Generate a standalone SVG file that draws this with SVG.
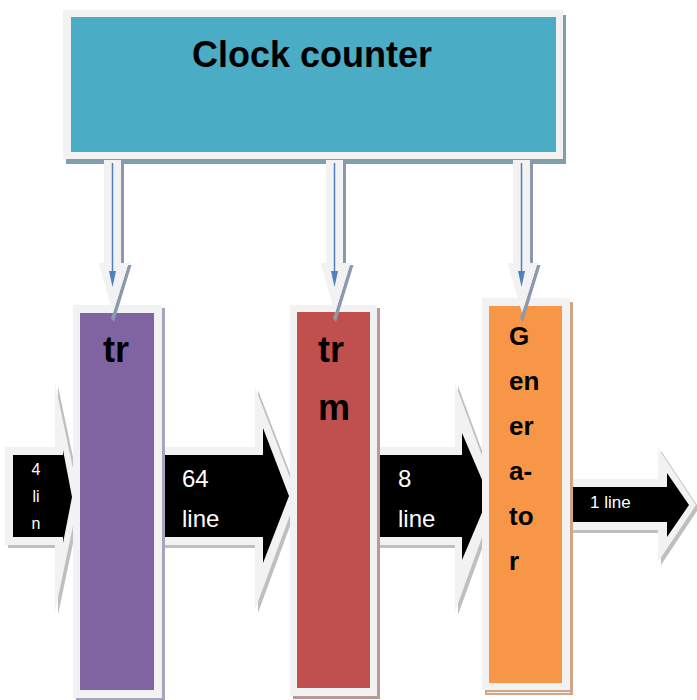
<svg xmlns="http://www.w3.org/2000/svg" width="697" height="700" viewBox="0 0 697 700">
<style>
.rim{fill:#f2f2f2}
.ashadow{fill:#bfbfbf}
.ablack{fill:#000000}
.dshadow{fill:#8c99ad}
.blue{stroke:#4f81bd;stroke-width:1.5;fill:none}
.bluehead{fill:#4f81bd}
.wt{fill:#ffffff;font-family:"Liberation Sans",Arial,sans-serif}
.bt{fill:#000000;font-family:"Liberation Sans",Arial,sans-serif;font-weight:bold}
</style>
<rect width="697" height="700" fill="#ffffff"/>

<g id="clock-counter">
  <rect x="66" y="15" width="500" height="149" fill="#7f9faa"/>
  <rect class="rim" x="63" y="10" width="500" height="149"/>
  <rect x="71" y="17" width="485" height="135" fill="#4bacc6"/>
  <text class="bt" x="312" y="67" font-size="36" text-anchor="middle">Clock counter</text>
</g>

<g id="connectors">
  <g id="arrow-4lin">
    <polygon class="ashadow" points="8,450 58,450 58,386 82,500 58,615 58,548 8,548"/>
    <polygon class="rim" points="5,447 55,447 55,383 79,497 55,612 55,545 5,545"/>
    <polygon class="ablack" points="13,455 63,455 63,450 72,497 63,543 63,537 13,537"/>
    <text class="wt" font-size="16" text-anchor="middle"><tspan x="36" y="475">4</tspan><tspan x="36" y="502">li</tspan><tspan x="36" y="529">n</tspan></text>
  </g>
  <g id="arrow-64line">
    <polygon class="ashadow" points="153,450 258,450 258,390 300,499 258,613 258,548 153,548"/>
    <polygon class="rim" points="150,447 255,447 255,387 297,496 255,610 255,545 150,545"/>
    <polygon class="ablack" points="150,455 263,455 263,428 289,496 263,563 263,537 150,537"/>
    <text class="wt" font-size="24"><tspan x="182" y="487">64</tspan><tspan x="182" y="527">line</tspan></text>
  </g>
  <g id="arrow-8line">
    <polygon class="ashadow" points="368,450 458,450 458,386 500,499 458,615 458,548 368,548"/>
    <polygon class="rim" points="365,447 455,447 455,383 497,496 455,612 455,545 365,545"/>
    <polygon class="ablack" points="365,455 462,455 462,433 489,496 462,560 462,537 365,537"/>
    <text class="wt" font-size="24"><tspan x="398" y="487">8</tspan><tspan x="398" y="527">line</tspan></text>
  </g>
  <g id="arrow-1line">
    <polygon class="ashadow" points="563,482 661,482 661,451 699,508 661,565 661,533 563,533"/>
    <polygon class="rim" points="560,479 658,479 658,448 696,505 658,562 658,530 560,530"/>
    <polygon class="ablack" points="560,487 667,487 667,473 689,505 667,537 667,522 560,522"/>
    <text class="wt" font-size="17" x="590" y="508">1 line</text>
  </g>
</g>

<g id="tr-purple">
  <rect x="76" y="308" width="89" height="393" fill="#aba3bd"/>
  <rect class="rim" x="73" y="305" width="89" height="393"/>
  <rect x="80" y="313" width="74" height="377" fill="#8064a2"/>
  <text class="bt" x="103" y="362" font-size="36">tr</text>
</g>

<g id="trm-red">
  <rect x="293" y="308" width="87" height="391" fill="#b99897"/>
  <rect class="rim" x="290" y="305" width="87" height="391"/>
  <rect x="297" y="312" width="73" height="376" fill="#c0504d"/>
  <text class="bt" font-size="36"><tspan x="318" y="362">tr</tspan><tspan x="318" y="420">m</tspan></text>
</g>

<g id="generator-orange">
  <rect x="485" y="302" width="88" height="393" fill="#d0a686"/>
  <rect x="487" y="692" width="83" height="1" fill="#f2f2f2"/>
  <rect class="rim" x="482" y="298" width="88" height="392"/>
  <rect x="489" y="306" width="73" height="377" fill="#f79646"/>
  <text class="bt" font-size="26"><tspan x="509" y="345">G</tspan><tspan x="509" y="390">en</tspan><tspan x="509" y="435">er</tspan><tspan x="509" y="480">a-</tspan><tspan x="509" y="525">to</tspan><tspan x="509" y="570">r</tspan></text>
</g>

<g id="clock-connectors">
  <g id="down-1">
    <polygon class="dshadow" points="121,160 124,160 124,265 131.5,265 114,322 111,318 113,313 128.5,263 121,263"/>
    <polygon class="rim" points="104,160 121,160 121,263 128.5,263 113,313 98.5,263 104,263"/>
    <line class="blue" x1="112.5" y1="163" x2="112.5" y2="274"/>
    <polygon class="bluehead" points="109,271 116,271 112.5,287"/>
  </g>
  <g id="down-2">
    <polygon class="dshadow" points="343,160 346,160 346,265 353.5,265 336,322 333,318 335,313 350.5,263 343,263"/>
    <polygon class="rim" points="326,160 343,160 343,263 350.5,263 335,313 320.5,263 326,263"/>
    <line class="blue" x1="334.5" y1="163" x2="334.5" y2="274"/>
    <polygon class="bluehead" points="331,271 338,271 334.5,287"/>
  </g>
  <g id="down-3">
    <polygon class="dshadow" points="530,160 533,160 533,265 540.5,265 523,322 520,318 522,313 537.5,263 530,263"/>
    <polygon class="rim" points="513,160 530,160 530,263 537.5,263 522,313 507.5,263 513,263"/>
    <line class="blue" x1="521.5" y1="163" x2="521.5" y2="274"/>
    <polygon class="bluehead" points="518,271 525,271 521.5,287"/>
  </g>
</g>
</svg>
